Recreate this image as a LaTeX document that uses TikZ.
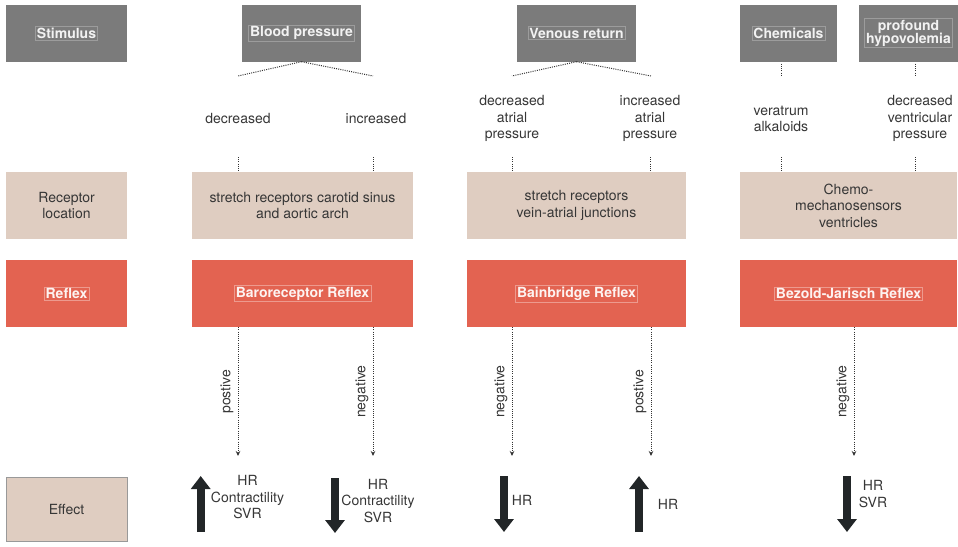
\documentclass[tikz,border=0pt]{standalone}
\usepackage{fontspec}
\setmainfont{TeX Gyre Heros}
\usetikzlibrary{arrows.meta}
% colours
\definecolor{hdrgray}{HTML}{7B7B7B}
\definecolor{recbeige}{HTML}{DFCDC1}
\definecolor{refred}{HTML}{E36351}
\definecolor{txtgray}{HTML}{363636}
\definecolor{arrblack}{HTML}{222628}
\newcommand{\bodyfont}{\fontsize{14}{16.5}\selectfont}
\newcommand{\headfont}{\bfseries\fontsize{14}{16}\selectfont}
\tikzset{
  stimbox/.style={fill=hdrgray, inner sep=0pt, minimum height=57pt},
  stimtxt/.style={draw=hdrgray!75!white, text=white!90!gray, font=\headfont,
                  inner sep=1.5pt, align=center},
  recbox/.style={fill=recbeige, inner sep=0pt, minimum height=67pt,
                 text=txtgray, font=\bodyfont, align=center},
  refbox/.style={fill=refred, inner sep=0pt, minimum height=67pt},
  reftxt/.style={draw=refred!65!white, text=white!92!refred, font=\headfont,
                 inner sep=1.5pt},
  effbox/.style={fill=recbeige, draw=gray!80, inner sep=0pt, minimum height=64pt,
                 minimum width=121pt, text=txtgray, font=\bodyfont},
  body/.style={text=txtgray, font=\bodyfont, align=center, inner sep=0pt},
  link/.style={dash pattern=on 1pt off 1.2pt, line width=1pt, black!80},
  pathway/.style={link, -{Stealth[length=5pt,width=4.5pt]}},
  bigarrow/.style={line width=8pt, arrblack, -{Triangle[width=19pt,length=13pt]}}
}
\begin{document}
\begin{tikzpicture}[x=1pt,y=-1pt]
\useasboundingbox (0,0) rectangle (958,546);
% stimulus row
\node[stimbox, minimum width=121pt] (stim) at (66.5,33) {};
\node[stimtxt] (stim-t) at (stim) {Stimulus};
\node[stimbox, minimum width=119pt] (bp) at (301.5,33) {};
\node[stimtxt] (bp-t) at (bp) {Blood pressure};
\node[stimbox, minimum width=119pt] (vr) at (576.5,33) {};
\node[stimtxt] (vr-t) at (vr) {Venous return};
\node[stimbox, minimum width=97pt] (chem) at (788.5,33) {};
\node[stimtxt] (chem-t) at (chem) {Chemicals};
\node[stimbox, minimum width=99pt] (hypo) at (908.5,33) {};
\node[stimtxt] (hypo-t) at (hypo) {profound\\[-3pt]hypovolemia};
% branches of the stimuli
\coordinate (bp-l) at (238,76);
\coordinate (bp-r) at (373,76);
\coordinate (vr-l) at (512,76);
\coordinate (vr-r) at (651,76);
\coordinate (chem-e) at (781,76);
\coordinate (hypo-e) at (915,76);
\draw[link] (bp.south) -- (bp-l);
\draw[link] (bp.south) -- (bp-r);
\draw[link] (vr.south) -- (vr-l);
\draw[link] (vr.south) -- (vr-r);
\draw[link] (chem-e |- chem.south) ++(0,2) -- (chem-e);
\draw[link] (hypo-e |- hypo.south) ++(0,2) -- (hypo-e);
% stimulus texts
\node[body] (dec-bp) at (238,118.5) {decreased};
\node[body] (inc-bp) at (376,118.5) {increased};
\node[body] (dec-ap) at (512,118.5) {decreased\\atrial\\pressure};
\node[body] (inc-ap) at (650,118.5) {increased\\atrial\\pressure};
\node[body] (vera) at (781,119) {veratrum\\alkaloids};
\node[body] (dvp) at (920,118.5) {decreased\\ventricular\\pressure};
% receptor row
\node[recbox, minimum width=121pt] (rec-lbl) at (66.5,205.5) {Receptor\\location};
\node[recbox, minimum width=221pt] (rec-baro) at (302.5,205.5) {stretch receptors carotid sinus\\and aortic arch};
\node[recbox, minimum width=219pt] (rec-bain) at (576.5,205.5) {stretch receptors\\vein-atrial junctions};
\node[recbox, minimum width=217pt] (rec-bj) at (848.5,205.5) {Chemo-\\mechanosensors\\ventricles};
\foreach \nm/\x in {t1/238, t2/373, t3/512, t4/650, t5/781, t6/915}{
  \coordinate (\nm-a) at (\x,157);
  \draw[link] (\nm-a) -- (\nm-a |- rec-lbl.north);
}
% reflex row
\node[refbox, minimum width=121pt] (ref-lbl) at (66.5,293.5) {};
\node[reftxt] (ref-lbl-t) at (ref-lbl) {Reflex};
\node[refbox, minimum width=221pt] (ref-baro) at (302.5,293.5) {};
\node[reftxt] (ref-baro-t) at (ref-baro) {Baroreceptor Reflex};
\node[refbox, minimum width=219pt] (ref-bain) at (576.5,293.5) {};
\node[reftxt] (ref-bain-t) at (ref-bain) {Bainbridge Reflex};
\node[refbox, minimum width=217pt] (ref-bj) at (848.5,293.5) {};
\node[reftxt] (ref-bj-t) at (ref-bj) {Bezold-Jarisch Reflex};
% pathways
\foreach \nm/\x/\lbl in {p1/238/postive, p2/373/negative, p3/512/negative,
                         p4/651/postive, p5/854/negative}{
  \coordinate (\nm-s) at (\x,327);
  \coordinate (\nm-e) at (\x,456);
  \draw[pathway] (\nm-s |- ref-lbl.south) -- (\nm-e)
     node[midway, above, rotate=90, body, inner sep=4pt] {\lbl};
}
% effect row
\node[effbox] (eff) at (66.5,509) {Effect};
\coordinate (a1-s) at (200.7,532); \coordinate (a1-e) at (200.7,476);
\coordinate (a2-s) at (335,478);   \coordinate (a2-e) at (335,533);
\coordinate (a3-s) at (504,476);   \coordinate (a3-e) at (504,532);
\coordinate (a4-s) at (639,532);   \coordinate (a4-e) at (639,476);
\coordinate (a5-s) at (847,476);   \coordinate (a5-e) at (847,532);
\foreach \nm in {a1,a2,a3,a4,a5}
  \draw[bigarrow] (\nm-s) -- (\nm-e);
\node[body] (e1) at (247.5,497.5) {HR\\Contractility\\SVR};
\node[body] (e2) at (378,501) {HR\\Contractility\\SVR};
\node[body] (e3) at (522,500) {HR};
\node[body] (e4) at (668,504) {HR};
\node[body] (e5) at (873,494) {HR\\SVR};
\end{tikzpicture}
\end{document}
